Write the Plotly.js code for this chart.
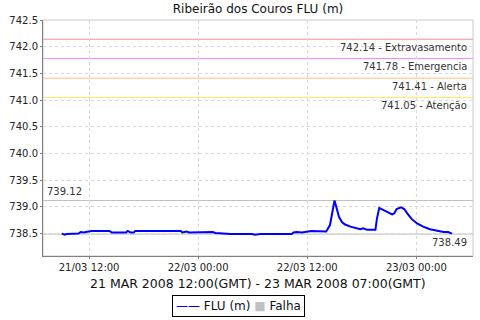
<!DOCTYPE html>
<html>
<head>
<meta charset="utf-8">
<script src="https://cdn.plot.ly/plotly-3.0.1.min.js"></script>
<style>html,body{margin:0;padding:0;background:#fff;}#chart{width:480px;height:320px;}</style>
</head>
<body>
<div id="chart"></div>
<script>
var times = [
"2008-03-21 09:00","2008-03-21 09:20","2008-03-21 09:30","2008-03-21 10:15","2008-03-21 10:50",
"2008-03-21 11:05","2008-03-21 11:25","2008-03-21 11:40","2008-03-21 12:15","2008-03-21 13:10",
"2008-03-21 14:15","2008-03-21 14:30","2008-03-21 15:25","2008-03-21 16:05","2008-03-21 16:15",
"2008-03-21 16:35","2008-03-21 16:55","2008-03-21 17:05","2008-03-21 18:40","2008-03-21 20:20",
"2008-03-21 22:05","2008-03-21 22:15","2008-03-21 22:45","2008-03-21 23:00","2008-03-22 00:10",
"2008-03-22 01:35","2008-03-22 01:55","2008-03-22 03:25","2008-03-22 03:35","2008-03-22 05:55",
"2008-03-22 06:15","2008-03-22 06:50","2008-03-22 10:17","2008-03-22 10:30","2008-03-22 10:50",
"2008-03-22 11:25","2008-03-22 11:58","2008-03-22 12:25","2008-03-22 14:05","2008-03-22 14:15",
"2008-03-22 14:30","2008-03-22 15:00","2008-03-22 15:15","2008-03-22 15:30","2008-03-22 15:50",
"2008-03-22 16:10","2008-03-22 16:45","2008-03-22 17:15","2008-03-22 17:50","2008-03-22 18:10",
"2008-03-22 18:35","2008-03-22 19:30","2008-03-22 19:40","2008-03-22 19:55","2008-03-22 20:25",
"2008-03-22 20:55","2008-03-22 21:20","2008-03-22 21:35","2008-03-22 21:50","2008-03-22 22:20",
"2008-03-22 22:40","2008-03-22 23:00","2008-03-22 23:30","2008-03-23 00:05","2008-03-23 00:45",
"2008-03-23 01:30","2008-03-23 02:15","2008-03-23 03:00","2008-03-23 03:30","2008-03-23 03:55"
];
var levels = [
738.50,738.48,738.49,738.50,738.50,
738.53,738.52,738.53,738.55,738.55,
738.55,738.52,738.52,738.52,738.55,
738.52,738.52,738.55,738.55,738.55,
738.55,738.52,738.54,738.52,738.52,
738.53,738.51,738.50,738.49,738.49,
738.48,738.49,738.49,738.52,738.53,
738.52,738.54,738.55,738.54,738.60,
738.66,739.12,738.97,738.81,738.71,
738.67,738.63,738.61,738.58,738.60,
738.57,738.57,738.78,738.98,738.94,
738.90,738.86,738.88,738.96,738.99,
738.96,738.88,738.77,738.69,738.63,
738.58,738.55,738.53,738.53,738.50
];
var thresholdValues = [742.14, 741.78, 741.41, 741.05];
var thresholdNames = ["Extravasamento", "Emergencia", "Alerta", "Atenção"];
var thresholdColors = ["#f09090", "#ff80ff", "#ffc080", "#ffe860"];
var maxValue = 739.12;
var minValue = 738.49;
var yTicks = [738.5, 739.0, 739.5, 740.0, 740.5, 741.0, 741.5, 742.0, 742.5];
var titleText = "Ribeirão dos Couros FLU (m)";
var subtitleText = "21 MAR 2008 12:00(GMT) - 23 MAR 2008 07:00(GMT)";
var seriesName = "FLU (m)";
var failName = "Falha";

var shapes = [];
var annotations = [];
thresholdValues.forEach(function(v, i){
  shapes.push({type:'line', xref:'paper', yref:'y', x0:0, x1:1, y0:v, y1:v,
    line:{color:thresholdColors[i], width:1}, layer:'below'});
  annotations.push({xref:'paper', yref:'y', x:0.99, y:v, xanchor:'right', yanchor:'top',
    yshift:-1, showarrow:false, text: v.toFixed(2) + " - " + thresholdNames[i],
    font:{size:10, color:'#333333', family:'DejaVu Sans'}});
});
shapes.push({type:'line', xref:'paper', yref:'y', x0:0, x1:1, y0:maxValue, y1:maxValue,
  line:{color:'#c0c0c0', width:1}, layer:'below'});
shapes.push({type:'line', xref:'paper', yref:'y', x0:0, x1:1, y0:minValue, y1:minValue,
  line:{color:'#c0c0c0', width:1}, layer:'below'});
shapes.push({type:'rect', xref:'paper', yref:'paper', x0:0, x1:1, y0:0, y1:1,
  line:{color:'#c8c8c8', width:1}, layer:'below'});
annotations.push({xref:'paper', yref:'y', x:0.005, y:maxValue, xanchor:'left', yanchor:'bottom',
  yshift:1, showarrow:false, text:maxValue.toFixed(2), font:{size:10, color:'#333333', family:'DejaVu Sans'}});
annotations.push({xref:'paper', yref:'y', x:0.99, y:minValue, xanchor:'right', yanchor:'top',
  yshift:-1, showarrow:false, text:minValue.toFixed(2), font:{size:10, color:'#333333', family:'DejaVu Sans'}});
annotations.push({xref:'paper', yref:'paper', x:0.5, y:-0.115, xanchor:'center', yanchor:'middle',
  showarrow:false, text:subtitleText, font:{size:12.5, color:'#111111', family:'DejaVu Sans'}});
// legend box
annotations.push({xref:'paper', yref:'paper', xanchor:'center', yanchor:'middle',
  x:(238-43)/429.7, y:-(306-256)/236, showarrow:false,
  bordercolor:'#000000', borderwidth:1, borderpad:3, bgcolor:'#ffffff',
  text:'<span style="color:#0000ff">——</span> ' + seriesName + ' <span style="color:#c0c0c0">■</span> ' + failName,
  font:{size:12, color:'#111111', family:'DejaVu Sans'}});

var data = [
  {x: times, y: levels, type:'scatter', mode:'lines', name: seriesName,
   line:{color:'#0000ff', width:2}, showlegend:false}
];

var layout = {
  width:480, height:320,
  margin:{l:43, r:7, t:20, b:64},
  paper_bgcolor:'#ffffff', plot_bgcolor:'#ffffff',
  font:{family:'DejaVu Sans', size:10, color:'#222222'},
  title:{text:titleText, x:0.5, xref:'paper', y:0.972, yref:'container', yanchor:'middle',
    font:{size:12, color:'#111111', family:'DejaVu Sans'}},
  xaxis:{type:'date', range:['2008-03-21 06:56','2008-03-23 06:14'],
    tick0:'2008-03-21 00:00', dtick:12*3600*1000, tickformat:'%d/%m %H:%M',
    showgrid:true, gridcolor:'#d8d8d8', griddash:'dot', gridwidth:1,
    showline:true, linecolor:'#808080', linewidth:1,
    ticks:'outside', ticklen:2, tickcolor:'#808080',
    tickfont:{size:10, color:'#222222'}, zeroline:false, fixedrange:true},
  yaxis:{range:[738.08, 742.5], tickvals:yTicks, tickformat:'.1f',
    showgrid:true, gridcolor:'#d8d8d8', griddash:'dot', gridwidth:1,
    showline:true, linecolor:'#808080', linewidth:1,
    ticks:'outside', ticklen:2, tickcolor:'#808080',
    tickfont:{size:10, color:'#222222'}, zeroline:false, fixedrange:true},
  shapes: shapes,
  annotations: annotations,
  showlegend:false
};

Plotly.newPlot('chart', data, layout, {displayModeBar:false, staticPlot:true});
</script>
</body>
</html>
